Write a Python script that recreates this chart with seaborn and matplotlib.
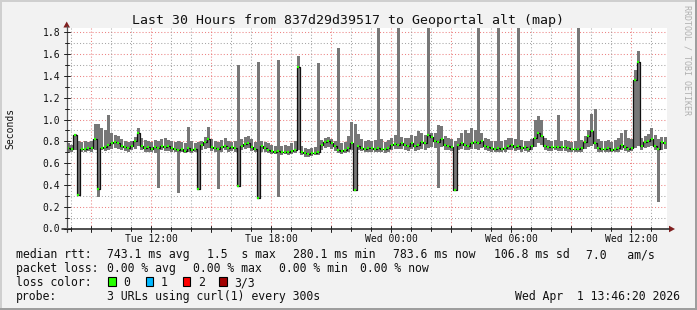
import matplotlib
matplotlib.use("Agg")
import matplotlib.pyplot as plt
import matplotlib.dates as mdates
from matplotlib.transforms import Affine2D
from matplotlib.patches import Rectangle, Polygon
from matplotlib.lines import Line2D
import numpy as np
import pandas as pd
import seaborn as sns

# ---------------- data (milliseconds, one value per 10-minute step) ----------------
median_ms = [
    740, 730, 860, 310, 730, 725, 735, 740, 820, 360,
    740, 750, 770, 785, 790, 780, 760, 750, 740, 760,
    800, 880, 760, 740, 750, 730, 745, 740, 760, 750,
    760, 740, 730, 720, 730, 715, 740, 720, 730, 360,
    770, 790, 820, 750, 740, 730, 750, 760, 740, 750,
    740, 390, 760, 775, 780, 750, 730, 280, 760, 740,
    720, 710, 705, 710, 700, 705, 700, 710, 720, 1480,
    700, 690, 685, 690, 695, 700, 770, 790, 800, 780,
    760, 720, 710, 720, 740, 780, 350, 760, 740, 730,
    740, 735, 730, 740, 730, 725, 740, 770, 775, 770,
    780, 770, 760, 780, 760, 770, 790, 780, 860, 840,
    800, 790, 820, 770, 760, 750, 350, 770, 780, 770,
    760, 780, 790, 780, 800, 760, 750, 740, 730, 740,
    730, 740, 760, 770, 750, 760, 740, 750, 730, 760,
    830, 880, 850, 760, 750, 750, 750, 750, 750, 745,
    740, 730, 725, 730, 740, 790, 850, 890, 780, 740,
    730, 725, 735, 720, 730, 740, 770, 750, 730, 740,
    1360, 1530, 760, 790, 800, 820, 760, 730, 790, 780,
]
low_ms = [
    700, 705, 720, 300, 700, 700, 710, 705, 720, 290,
    720, 710, 720, 730, 740, 730, 720, 715, 700, 720,
    730, 760, 720, 700, 705, 700, 690, 370, 720, 710,
    715, 700, 700, 330, 700, 690, 700, 690, 700, 350,
    720, 730, 740, 710, 700, 360, 705, 720, 700, 710,
    700, 380, 720, 730, 740, 710, 700, 270, 700, 700,
    690, 680, 680, 290, 675, 680, 670, 680, 690, 720,
    670, 660, 660, 665, 670, 675, 720, 740, 750, 730,
    710, 690, 680, 690, 700, 720, 340, 720, 710, 700,
    705, 700, 700, 700, 700, 695, 705, 720, 730, 725,
    730, 720, 715, 730, 710, 720, 730, 720, 740, 750,
    740, 370, 750, 720, 720, 710, 340, 720, 730, 720,
    720, 730, 730, 720, 740, 720, 710, 700, 700, 700,
    700, 705, 720, 720, 710, 720, 700, 710, 700, 720,
    750, 780, 770, 720, 710, 710, 720, 710, 715, 710,
    705, 700, 700, 700, 700, 730, 750, 760, 730, 700,
    700, 700, 705, 700, 700, 705, 720, 710, 700, 710,
    740, 760, 720, 740, 750, 760, 720, 240, 720, 730,
]
high_ms = [
    780, 770, 870, 800, 790, 800, 790, 800, 960, 960,
    920, 900, 1040, 880, 860, 850, 820, 800, 790, 800,
    840, 920, 830, 810, 800, 790, 810, 800, 820, 830,
    810, 800, 790, 800, 790, 780, 930, 800, 780, 790,
    800, 840, 930, 820, 800, 790, 810, 830, 800, 790,
    800, 1500, 820, 840, 850, 820, 790, 1530, 800, 790,
    780, 770, 760, 1545, 760, 770, 760, 780, 800, 1580,
    760, 740, 730, 740, 750, 1515, 810, 830, 840, 820,
    800, 1660, 780, 790, 850, 980, 960, 870, 820, 800,
    810, 800, 810, 1900, 820, 790, 810, 830, 860, 1900,
    840, 830, 830, 860, 850, 890, 880, 860, 1900, 880,
    880, 950, 940, 850, 830, 820, 800, 830, 880, 900,
    880, 920, 900, 1900, 880, 830, 820, 800, 800, 1900,
    800, 810, 830, 830, 820, 1900, 810, 800, 800, 820,
    1000, 1030, 1000, 830, 810, 800, 810, 1040, 800, 810,
    800, 790, 800, 1900, 810, 850, 900, 1050, 1100, 820,
    800, 800, 810, 790, 810, 830, 880, 900, 830, 820,
    1450, 1630, 830, 850, 870, 920, 860, 820, 840, 840,
]

title = "Last 30 Hours from 837d29d39517 to Geoportal alt (map)"
y_ticks = [0.0, 0.2, 0.4, 0.6, 0.8, 1.0, 1.2, 1.4, 1.6, 1.8]
loss_labels = ["0", "1", "2", "3/3"]
loss_colors = ["#26ff00", "#00b8ff", "#ff0000", "#a10000"]
rtt_stats = ["743.1 ms avg", "1.5  s max", "280.1 ms min", "783.6 ms now", "106.8 ms sd", "7.0   am/s"]
loss_stats = ["0.00 % avg", "0.00 % max", "0.00 % min", "0.00 % now"]
probe_text = "3 URLs using curl(1) every 300s"
stamp = "Wed Apr  1 13:46:20 2026"

start = pd.Timestamp("2026-03-31 07:46:20")
end = pd.Timestamp("2026-04-01 13:46:20")
step = pd.Timedelta(minutes=10)
times = pd.date_range(start + step / 2, periods=len(median_ms), freq="10min")

df = pd.DataFrame({
    "time": times,
    "median": np.array(median_ms) / 1000.0,
    "low": np.array(low_ms) / 1000.0,
    "high": np.array(high_ms) / 1000.0,
})

# ---------------- style ----------------
sns.set_style("white")
mono = "DejaVu Sans Mono"
plt.rcParams["font.family"] = [mono, "DejaVu Sans"]

W, H = 697, 310
fig = plt.figure(figsize=(W / 100, H / 100), dpi=100, facecolor="#f2f2f2")
PX = Affine2D().scale(1, -1).translate(0, H)  # pixel coords, origin top-left

L, R, T, B = 66.7, 666.7, 28.0, 228.5
ax = fig.add_axes([L / W, 1 - B / H, (R - L) / W, (B - T) / H])
ax.set_facecolor("white")
for s in ax.spines.values():
    s.set_visible(False)

tnum = mdates.date2num(df["time"].dt.to_pydatetime())
width = step / pd.Timedelta(days=1)

# grid (dotted, rrdtool style)
grid_gray = (0.56, 0.56, 0.56, 0.8)
grid_red = (0.90, 0.35, 0.35, 0.75)
dots = (0, (1.0, 2.0))
for k in range(1, 19):
    v = k / 10
    c = grid_red if k % 2 == 0 else grid_gray
    ax.axhline(v, color=c, lw=0.75, ls=dots, zorder=0.5)
hours = pd.date_range(start.ceil("h"), end, freq="1h")
for h in hours:
    c = grid_red if h.hour % 3 == 0 else grid_gray
    ax.axvline(mdates.date2num(h.to_pydatetime()), color=c, lw=0.75, ls=dots, zorder=0.5)

# smoke
ax.bar(tnum, df["high"] - df["low"], bottom=df["low"], width=width * 0.9,
       color="#777777", linewidth=0, zorder=2)

# median line (black steps) + loss-colored dots
sns.lineplot(x=tnum, y=df["median"].values, ax=ax, color="#111111", lw=0.9,
             drawstyle="steps-mid", estimator=None, zorder=3)
ax.hlines(df["median"], tnum - width * 0.3, tnum + width * 0.3,
          colors=loss_colors[0], lw=1.6, zorder=4)

ax.set_xlim(mdates.date2num(start.to_pydatetime()), mdates.date2num(end.to_pydatetime()))
ax.set_ylim(0, (B - T) / 109.0)
ax.set_yticks(y_ticks)
ax.set_yticklabels([f"{v:.1f}" for v in y_ticks])
ax.xaxis.set_major_locator(mdates.HourLocator(byhour=[0, 6, 12, 18]))
ax.xaxis.set_major_formatter(mdates.DateFormatter("%a %H:%M"))
ax.tick_params(axis="y", length=0, pad=4.6, labelsize=7, colors="#111111")
ax.tick_params(axis="x", length=0, pad=3.6, labelsize=7, colors="#111111")
for lab in ax.get_xticklabels() + ax.get_yticklabels():
    lab.set_fontfamily(mono)
ax.set_xlabel("")
ax.set_ylabel("")

# axes lines & arrows (pixel coordinates)
axis_col = "#1f1f1f"
arrow_col = "#801f1f"
fig.add_artist(Line2D([62, 669], [B + 0.5, B + 0.5], color=axis_col, lw=1.1, transform=PX))
fig.add_artist(Line2D([L, L], [B + 3, 26], color="#555555", lw=0.9, transform=PX))
fig.add_artist(Polygon([[L, 21.5], [L - 3.3, 27.5], [L + 3.3, 27.5]], closed=True,
                       color=arrow_col, transform=PX, lw=0))
fig.add_artist(Polygon([[675, B + 0.5], [669, B - 2.8], [669, B + 3.8]], closed=True,
                       color=arrow_col, transform=PX, lw=0))
# small tick marks on the time axis (each hour)
for h in hours:
    xp = L + (h - start) / pd.Timedelta(hours=1) * 20.0
    ln = 3 if h.hour % 3 == 0 else 2
    fig.add_artist(Line2D([xp, xp], [B - ln + 0.5, B + ln + 0.5], color=axis_col, lw=0.7,
                          transform=PX))
for k in range(0, 19):
    yp = B - k / 10 * 109.0
    ln = 3 if k % 2 == 0 else 2
    fig.add_artist(Line2D([L - ln, L + ln], [yp, yp], color=axis_col, lw=0.7, transform=PX))

# frame
fig.add_artist(Rectangle((0, 0), W, 2, color="#cfcfcf", transform=PX, lw=0))
fig.add_artist(Rectangle((0, 0), 2, H, color="#cfcfcf", transform=PX, lw=0))
fig.add_artist(Rectangle((0, H - 2), W, 2, color="#9e9e9e", transform=PX, lw=0))
fig.add_artist(Rectangle((W - 2, 0), 2, H, color="#9e9e9e", transform=PX, lw=0))


def ftext(x, y, s, **kw):
    kw.setdefault("fontfamily", mono)
    kw.setdefault("va", "baseline")
    kw.setdefault("color", "#111111")
    fig.text(x / W, 1 - y / H, s, **kw)


ftext(347.5, 24, title, ha="center", fontsize=9.5)
ftext(10, (T + B) / 2, "Seconds", ha="center", va="center", rotation=90, fontsize=7)
ftext(687.5, 60, "RRDTOOL / TOBI OETIKER", ha="center", va="center", rotation=270,
      fontsize=6, color="#b0b0b0")

fs = 8.3
rows = [258.3, 272.3, 286.3, 300.3]
ftext(16, rows[0], "median rtt:", fontsize=fs)
for x, s in zip([107.3, 207.3, 293.3, 393.0, 493.7, 586.0], rtt_stats):
    ftext(x, rows[0], s, fontsize=fs)
ftext(16, rows[1], "packet loss:", fontsize=fs)
for x, s in zip([107.3, 193.3, 279.3, 360.3], loss_stats):
    ftext(x, rows[1], s, fontsize=fs)
ftext(16, rows[2], "loss color:", fontsize=fs)
for x, lab, col in zip([108.3, 145.7, 182.7, 219.3], loss_labels, loss_colors):
    fig.add_artist(Rectangle((x, rows[2] - 9.5), 7.6, 9.5, facecolor=col,
                             edgecolor="black", lw=0.8, transform=PX))
    ftext(x + 15, rows[2], lab, fontsize=fs)
ftext(16, rows[3], "probe:", fontsize=fs)
ftext(107.3, rows[3], probe_text, fontsize=fs)
ftext(680.3, rows[3], stamp, ha="right", fontsize=fs)

fig.savefig("out.png", dpi=100, facecolor=fig.get_facecolor())
